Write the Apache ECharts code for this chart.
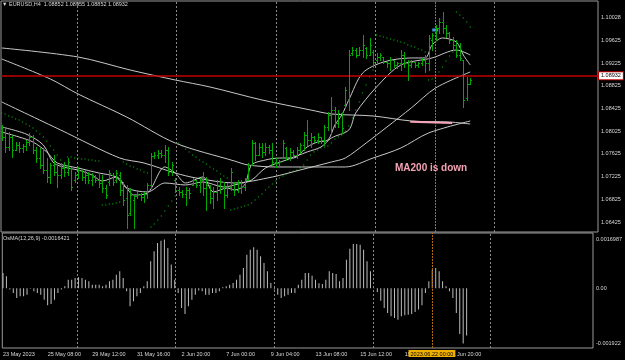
<!DOCTYPE html>
<html>
<head>
<meta charset="utf-8">
<script src="https://cdn.jsdelivr.net/npm/echarts@6/dist/echarts.min.js"></script>
<style>
  html, body { margin: 0; background: #000; }
  #chart { width: 625px; height: 360px; }
</style>
</head>
<body>
<div id="chart"></div>
<script>
// EURUSD H4 bars, 23 May 04:00 .. 22 Jun 16:00
const barOpen = [
  1.08081, 1.07922, 1.07746, 1.07922, 1.07693, 1.07781, 1.07728, 1.07764, 1.07834, 1.07922,
  1.07693, 1.07552, 1.07429, 1.07341, 1.07218, 1.07429, 1.07306, 1.07253, 1.07376, 1.07306,
  1.07376, 1.07165, 1.07253, 1.07341, 1.07218, 1.07253, 1.07165, 1.07218, 1.07165, 1.07112,
  1.07024, 1.07130, 1.07253, 1.07165, 1.07253, 1.06989, 1.06848, 1.06584, 1.06813, 1.06883,
  1.06918, 1.06865, 1.06918, 1.07077, 1.07588, 1.07605, 1.07640, 1.07605, 1.07693, 1.07306,
  1.07165, 1.06989, 1.06954, 1.06918, 1.06989, 1.07077, 1.07165, 1.07077, 1.07165, 1.07024,
  1.07077, 1.06848, 1.06954, 1.07077, 1.07130, 1.06901, 1.07042, 1.07112, 1.06989, 1.07112,
  1.07042, 1.07165, 1.07429, 1.07816, 1.07605, 1.07746, 1.07658, 1.07746, 1.07693, 1.07482,
  1.07464, 1.07552, 1.07728, 1.07570, 1.07658, 1.07605, 1.07693, 1.07781, 1.07957, 1.07869,
  1.07922, 1.07869, 1.07922, 1.07869, 1.08098, 1.08310, 1.08398, 1.08169, 1.08345, 1.08486,
  1.08574, 1.09402, 1.09454, 1.09366, 1.09454, 1.09490, 1.09366, 1.09419, 1.09278, 1.09331,
  1.09331, 1.09243, 1.09225, 1.09278, 1.09190, 1.09225, 1.09366, 1.09225, 1.09190, 1.09243,
  1.09190, 1.09225, 1.09278, 1.09225, 1.09631, 1.09719, 1.09842, 1.09948, 1.09842, 1.09754,
  1.09631, 1.09542, 1.09366, 1.09278, 1.08609, 1.08852
];
const barHigh = [
  1.08134, 1.08081, 1.08010, 1.07957, 1.07834, 1.07834, 1.07799, 1.07869, 1.07993, 1.07957,
  1.07746, 1.07728, 1.07728, 1.07552, 1.07464, 1.07605, 1.07429, 1.07464, 1.07482, 1.07552,
  1.07394, 1.07306, 1.07394, 1.07341, 1.07341, 1.07306, 1.07288, 1.07253, 1.07288, 1.07253,
  1.07077, 1.07341, 1.07288, 1.07341, 1.07306, 1.07130, 1.07077, 1.07024, 1.06901, 1.06954,
  1.06936, 1.06954, 1.07112, 1.07640, 1.07658, 1.07693, 1.07693, 1.07781, 1.07746, 1.07482,
  1.07200, 1.07042, 1.06989, 1.07042, 1.07024, 1.07200, 1.07165, 1.07200, 1.07306, 1.07218,
  1.07077, 1.07042, 1.07165, 1.07200, 1.07130, 1.07112, 1.07376, 1.07130, 1.07165, 1.07165,
  1.07200, 1.07464, 1.07869, 1.07834, 1.07816, 1.07816, 1.07816, 1.07781, 1.07816, 1.07552,
  1.07517, 1.07869, 1.07746, 1.07728, 1.07693, 1.07746, 1.07816, 1.08010, 1.08222, 1.07993,
  1.07940, 1.07993, 1.07922, 1.08134, 1.08362, 1.08627, 1.08451, 1.08398, 1.08345, 1.08803,
  1.09454, 1.09507, 1.09490, 1.09507, 1.09719, 1.09507, 1.09666, 1.09454, 1.09402, 1.09402,
  1.09331, 1.09278, 1.09331, 1.09278, 1.09243, 1.09454, 1.09419, 1.09278, 1.09278, 1.09243,
  1.09243, 1.09314, 1.09366, 1.09719, 1.09754, 1.09895, 1.10018, 1.10124, 1.09895, 1.09771,
  1.09683, 1.09631, 1.09578, 1.09278, 1.08979, 1.08955
];
const barLow = [
  1.07869, 1.07658, 1.07693, 1.07570, 1.07693, 1.07658, 1.07658, 1.07693, 1.07781, 1.07640,
  1.07482, 1.07376, 1.07288, 1.07130, 1.07112, 1.07253, 1.07042, 1.07200, 1.07235, 1.07253,
  1.06989, 1.07130, 1.07200, 1.07165, 1.07112, 1.07112, 1.07077, 1.07130, 1.07042, 1.06954,
  1.06848, 1.07077, 1.07077, 1.07130, 1.06901, 1.06725, 1.06320, 1.06548, 1.06320, 1.06848,
  1.06813, 1.06777, 1.06848, 1.07024, 1.07552, 1.07552, 1.07570, 1.07482, 1.07253, 1.07253,
  1.06954, 1.06901, 1.06865, 1.06725, 1.06848, 1.07077, 1.07042, 1.06954, 1.06901, 1.06637,
  1.06760, 1.06672, 1.06813, 1.06936, 1.06672, 1.06865, 1.06989, 1.06901, 1.06954, 1.06936,
  1.06989, 1.07165, 1.07429, 1.07517, 1.07605, 1.07570, 1.07605, 1.07640, 1.07429, 1.07394,
  1.07429, 1.07552, 1.07517, 1.07517, 1.07570, 1.07552, 1.07640, 1.07693, 1.07781, 1.07746,
  1.07834, 1.07816, 1.07816, 1.07781, 1.08045, 1.07993, 1.08098, 1.08098, 1.07993, 1.08451,
  1.08398, 1.09366, 1.09331, 1.09366, 1.09331, 1.09314, 1.09366, 1.09155, 1.09243, 1.09278,
  1.09225, 1.09155, 1.09102, 1.09155, 1.09137, 1.09102, 1.09155, 1.08926, 1.09155, 1.09155,
  1.09155, 1.09190, 1.09067, 1.09102, 1.09454, 1.09631, 1.09754, 1.09754, 1.09683, 1.09578,
  1.09454, 1.09331, 1.09278, 1.08451, 1.08574, 1.08852
];
const barClose = [
  1.07922, 1.07746, 1.07922, 1.07693, 1.07781, 1.07728, 1.07764, 1.07834, 1.07922, 1.07693,
  1.07552, 1.07429, 1.07341, 1.07218, 1.07429, 1.07306, 1.07253, 1.07376, 1.07306, 1.07482,
  1.07042, 1.07253, 1.07341, 1.07218, 1.07253, 1.07165, 1.07218, 1.07165, 1.07112, 1.07024,
  1.06901, 1.07288, 1.07130, 1.07288, 1.06989, 1.06813, 1.06548, 1.06901, 1.06883, 1.06918,
  1.06865, 1.06918, 1.07077, 1.07588, 1.07605, 1.07640, 1.07605, 1.07693, 1.07306, 1.07429,
  1.06989, 1.06954, 1.06918, 1.06989, 1.06936, 1.07165, 1.07077, 1.07165, 1.07024, 1.07077,
  1.06848, 1.06954, 1.07077, 1.07130, 1.06901, 1.07042, 1.07306, 1.06989, 1.07112, 1.07042,
  1.07165, 1.07429, 1.07816, 1.07605, 1.07746, 1.07658, 1.07746, 1.07693, 1.07482, 1.07464,
  1.07482, 1.07816, 1.07570, 1.07658, 1.07605, 1.07693, 1.07781, 1.07957, 1.07869, 1.07922,
  1.07869, 1.07922, 1.07869, 1.08098, 1.08310, 1.08398, 1.08169, 1.08345, 1.08081, 1.08750,
  1.09366, 1.09454, 1.09366, 1.09454, 1.09542, 1.09366, 1.09542, 1.09243, 1.09331, 1.09366,
  1.09243, 1.09225, 1.09278, 1.09190, 1.09225, 1.09366, 1.09225, 1.09190, 1.09243, 1.09190,
  1.09225, 1.09278, 1.09225, 1.09666, 1.09719, 1.09842, 1.09948, 1.09842, 1.09754, 1.09631,
  1.09542, 1.09366, 1.09314, 1.08574, 1.08856, 1.08932
];

// parabolic SAR, one dot per bar (null where none is drawn)
const sar = [
  1.08345, 1.08327, 1.08292, 1.08274, 1.08239, 1.08222, 1.08186, 1.08151, 1.08116, 1.08081,
  1.08028, 1.07975, 1.07922, 1.07852, 1.07764, 1.07693, 1.07605, 1.07517, null, 1.07570,
  1.07570, 1.07552, 1.07552, 1.07535, 1.07535, 1.07517, 1.07517, 1.07500, 1.07500, 1.06725,
  1.06725, 1.06742, 1.06742, 1.06760, 1.06777, 1.07482, 1.07447, 1.07411, 1.07394, 1.07359,
  1.07341, 1.07306, 1.07288, 1.06337, 1.06390, 1.06460, 1.06531, 1.06619, 1.06707, 1.06795,
  1.06883, 1.07816, 1.07764, 1.07711, 1.07658, 1.07605, 1.07570, 1.07517, 1.07482, 1.07447,
  1.07394, 1.07359, 1.07323, 1.07270, 1.07235, 1.07200, 1.06637, 1.06654, 1.06672, 1.06689,
  1.06707, 1.06725, 1.06760, 1.06813, 1.06865, 1.06918, 1.06989, 1.07042, 1.07094, 1.07147,
  1.07200, 1.07235, 1.07270, 1.07306, 1.07323, 1.07341, 1.07376, 1.07429, 1.07517, 1.07605,
  1.07658, 1.07693, 1.07728, 1.07746, 1.07764, 1.07816, 1.07887, 1.07922, 1.07957, 1.08028,
  1.08116, 1.08257, 1.08398, 1.08539, 1.08697, 1.08838, 1.08979, 1.09102, 1.09719, 1.09701,
  1.09683, 1.09666, 1.09648, 1.09631, 1.09613, 1.09595, 1.09578, 1.09542, 1.09525, 1.09507,
  1.09472, 1.09454, 1.09419, 1.08926, 1.08944, 1.08997, 1.09067, 1.09155, 1.09261, 1.09349,
  1.09419, 1.10124, 1.10071, 1.10018, 1.09948, 1.09860
];

// moving averages as [bar, price]
const ma200 = [[0, 1.09490], [22, 1.09331], [37, 1.09102], [50, 1.08926], [60, 1.08803], [75, 1.08574],
  [89, 1.08398], [95, 1.08327], [107, 1.08292], [118, 1.08204], [129, 1.08186], [135, 1.08151]];
const ma100 = [[0, 1.09296], [14, 1.08944], [22, 1.08679], [36, 1.08274], [50, 1.07816], [67, 1.07500],
  [71, 1.07429], [79, 1.07394], [99, 1.07394], [107, 1.07552], [115, 1.07728], [123, 1.07993], [135, 1.08204]];
const ma50 = [[0, 1.08539], [17, 1.08045], [34, 1.07552], [41, 1.07464], [50, 1.07288], [56, 1.07200],
  [67, 1.07112], [78, 1.07218], [86, 1.07341], [95, 1.07482], [99, 1.07552], [105, 1.07816], [111, 1.08098],
  [118, 1.08433], [125, 1.08785], [135, 1.09067]];
const ma20 = [[0, 1.08010], [5, 1.07922], [9, 1.07834], [13, 1.07658], [16, 1.07464], [22, 1.07376],
  [28, 1.07288], [33, 1.07218], [36, 1.07024], [42, 1.06954], [47, 1.07112], [53, 1.07077], [58, 1.07130],
  [64, 1.07042], [67, 1.07077], [72, 1.07165], [76, 1.07376], [82, 1.07517], [88, 1.07658], [92, 1.07746],
  [95, 1.07905], [100, 1.08045], [102, 1.08345], [108, 1.08803], [115, 1.09190], [124, 1.09314],
  [131, 1.09454], [135, 1.09366]];
const ma10 = [[0, 1.08098], [7, 1.07975], [12, 1.07781], [15, 1.07464], [19, 1.07376], [22, 1.07341],
  [26, 1.07253], [29, 1.07147], [33, 1.07218], [36, 1.07024], [38, 1.06901], [42, 1.06936], [47, 1.07394],
  [50, 1.07288], [53, 1.07112], [58, 1.07218], [61, 1.06954], [65, 1.07024], [67, 1.06989], [70, 1.07077],
  [72, 1.07429], [76, 1.07517], [80, 1.07552], [84, 1.07552], [88, 1.07746], [91, 1.07834], [94, 1.07869],
  [96, 1.08134], [98, 1.08310], [100, 1.08574], [104, 1.09049], [110, 1.09243], [118, 1.09314],
  [122, 1.09314], [124, 1.09542], [127, 1.09666], [131, 1.09595], [133, 1.09366], [135, 1.09190]];

// OsMA(12,26,9) histogram
const osma = [
  0.000534, 0.000418, -0.000046, -0.000163, -0.000337, -0.000279, -0.000279, -0.000221, -0.000012, -0.000105,
  -0.000163, -0.000221, -0.000395, -0.000592, -0.000546, -0.000395, -0.000163, -0.000046, 0.000070, 0.000302,
  0.000302, 0.000360, 0.000383, 0.000360, 0.000302, 0.000244, 0.000128, 0.000128, 0.000128, 0.000070,
  0.000128, 0.000244, 0.000302, 0.000476, 0.000592, 0.000360, -0.000105, -0.000627, -0.000453, -0.000279,
  -0.000163, 0.000070, 0.000244, 0.000941, 0.001289, 0.001580, 0.001661, 0.0016987, 0.001405, 0.000825,
  0.000302, -0.000163, -0.000685, -0.000894, -0.000627, -0.000395, -0.000221, -0.000081, -0.000105, -0.000221,
  -0.000221, -0.000163, -0.000163, -0.000105, 0.000035, 0.000070, 0.000128, 0.000186, 0.000302, 0.000476,
  0.000708, 0.001173, 0.001347, 0.001429, 0.001347, 0.001115, 0.000883, 0.000592, 0.000186, -0.000046,
  -0.000221, -0.000337, -0.000279, -0.000221, -0.000163, -0.000163, 0.000128, 0.000302, 0.000534, 0.000534,
  0.000441, 0.000302, 0.000174, 0.000151, 0.000302, 0.000592, 0.000534, 0.000499, 0.000244, 0.000360,
  0.000999, 0.001382, 0.001545, 0.001545, 0.001521, 0.001347, 0.000941, 0.000592, 0.000012, -0.000128,
  -0.000430, -0.000685, -0.000859, -0.000976, -0.001034, -0.001092, -0.000976, -0.000941, -0.000918, -0.000894,
  -0.000825, -0.000743, -0.000592, -0.000163, 0.000244, 0.000650, 0.000708, 0.000592, 0.000244, 0.000070,
  -0.000105, -0.000337, -0.000859, -0.001591, -0.001922, -0.0016421
];

const priceTicks = [1.06425, 1.06825, 1.07225, 1.07625, 1.08025, 1.08425, 1.08825, 1.09225, 1.09625, 1.10028];
const osmaTicks = [0.0016987, 0, -0.001922];
const osmaTickText = ['0.0016987', '0.00', '-0.001922'];
const timeTickBars = [0, 13, 26, 39, 52, 65, 78, 91, 104, 117, 130];
const timeTickText = ['23 May 2023', '25 May 08:00', '29 May 12:00', '31 May 16:00', '2 Jun 20:00',
  '7 Jun 00:00', '9 Jun 04:00', '13 Jun 08:00', '15 Jun 12:00', '19 Jun 16:00', '21 Jun 20:00'];
const lastPrice = 1.08932;
const markerBar = 124.9;
const markerTime = '2023.06.22 00:00';

(function() {
  const chart = echarts.init(document.getElementById('chart'));
  const font = 'Liberation Sans';
  const txt = '#d8d8d8';
  const barColor = '#00a800';
  const maColor = '#c8c8c8';
  const frame = '#9a9a9a';
  const gridBars = [21.7, 50.2, 79, 107.7, 141.9];

  const ohlc = barOpen.map(function(o, i) {
    return [i, o, barHigh[i], barLow[i], barClose[i]];
  });
  const sarPts = [];
  sar.forEach(function(v, i) {
    if (v !== null) sarPts.push([i, v]);
  });

  function maSeries(pts) {
    return {
      type: 'line',
      xAxisIndex: 0,
      yAxisIndex: 0,
      data: pts,
      showSymbol: false,
      smooth: 0.3,
      silent: true,
      z: 4,
      lineStyle: { color: maColor, width: 1 }
    };
  }

  function gridLines(idx) {
    return {
      type: 'line',
      xAxisIndex: idx,
      yAxisIndex: idx,
      data: [],
      silent: true,
      z: 1,
      markLine: {
        symbol: 'none',
        silent: true,
        label: { show: false },
        lineStyle: { color: '#8a8a8a', width: 1, type: [2, 2] },
        data: gridBars.map(function(b) { return { xAxis: b }; })
      }
    };
  }

  const xBase = {
    type: 'value',
    min: -0.2,
    max: 171.8,
    axisLine: { show: false },
    axisTick: { show: false },
    splitLine: { show: false }
  };

  const option = {
    backgroundColor: '#000',
    animation: false,
    title: [
      {
        text: '\u25BC EURUSD,H4  1.08852 1.08955 1.08852 1.08932',
        left: 2, top: 1, padding: 0,
        textStyle: { color: txt, fontSize: 5.5, fontWeight: 'normal', fontFamily: font }
      },
      {
        text: 'OsMA(12,26,9) -0.0016421',
        left: 3, top: 235, padding: 0,
        textStyle: { color: txt, fontSize: 5.5, fontWeight: 'normal', fontFamily: font }
      }
    ],
    grid: [
      { left: 1, top: 1, width: 597, height: 231, show: true, borderColor: frame, borderWidth: 1 },
      { left: 1, top: 233, width: 597, height: 115, show: true, borderColor: frame, borderWidth: 1 }
    ],
    xAxis: [
      Object.assign({}, xBase, { gridIndex: 0, axisLabel: { show: false } }),
      Object.assign({}, xBase, {
        gridIndex: 1,
        axisLabel: {
          show: true,
          customValues: timeTickBars,
          formatter: function(v) {
            const k = timeTickBars.indexOf(Math.round(v));
            return k >= 0 ? timeTickText[k] : '';
          },
          align: 'left',
          margin: 3,
          color: txt,
          fontSize: 5.5,
          fontFamily: font,
          hideOverlap: false
        }
      })
    ],
    yAxis: [
      {
        type: 'value', gridIndex: 0, position: 'right',
        min: 1.06249, max: 1.10317,
        axisLine: { show: false }, axisTick: { show: false }, splitLine: { show: false },
        axisLabel: {
          customValues: priceTicks,
          formatter: function(v) { return v.toFixed(5); },
          margin: 3, color: txt, fontSize: 5.5, fontFamily: font
        }
      },
      {
        type: 'value', gridIndex: 1, position: 'right',
        min: -0.0020801, max: 0.0019268,
        axisLine: { show: false }, axisTick: { show: false }, splitLine: { show: false },
        axisLabel: {
          customValues: osmaTicks,
          formatter: function(v) {
            let k = 0;
            osmaTicks.forEach(function(t, j) {
              if (Math.abs(t - v) < Math.abs(osmaTicks[k] - v)) k = j;
            });
            return osmaTickText[k];
          },
          margin: 3, color: txt, fontSize: 5.5, fontFamily: font
        }
      }
    ],
    series: [
      gridLines(0),
      gridLines(1),
      maSeries(ma200),
      maSeries(ma100),
      maSeries(ma50),
      maSeries(ma20),
      maSeries(ma10),
      {
        type: 'scatter',
        xAxisIndex: 0, yAxisIndex: 0,
        data: sarPts,
        symbolSize: 1.4,
        silent: true,
        z: 3,
        itemStyle: { color: '#00b400' }
      },
      {
        type: 'custom',
        xAxisIndex: 0, yAxisIndex: 0,
        data: ohlc,
        encode: { x: 0, y: [1, 2, 3, 4] },
        silent: true,
        z: 5,
        renderItem: function(params, api) {
          const i = api.value(0);
          const hi = api.coord([i, api.value(2)]);
          const lo = api.coord([i, api.value(3)]);
          const op = api.coord([i, api.value(1)]);
          const cl = api.coord([i, api.value(4)]);
          const x = Math.round(hi[0]) + 0.5;
          const st = { stroke: barColor, lineWidth: 1 };
          const yo = Math.round(op[1]) + 0.5;
          const yc = Math.round(cl[1]) + 0.5;
          return {
            type: 'group',
            children: [
              { type: 'line', shape: { x1: x, y1: Math.round(hi[1]), x2: x, y2: Math.round(lo[1]) + 1 }, style: st },
              { type: 'line', shape: { x1: x - 1.5, y1: yo, x2: x, y2: yo }, style: st },
              { type: 'line', shape: { x1: x, y1: yc, x2: x + 1.5, y2: yc }, style: st }
            ]
          };
        },
        markLine: {
          symbol: 'none',
          silent: true,
          data: [
            {
              yAxis: lastPrice,
              lineStyle: { color: '#c00000', width: 1.5, type: 'solid' },
              label: {
                show: true, position: 'end', distance: 1,
                formatter: lastPrice.toFixed(5),
                color: '#000', backgroundColor: '#fff',
                borderColor: '#c00000', borderWidth: 1,
                padding: [1, 2, 0, 2], fontSize: 5.5, fontFamily: font
              }
            },
            {
              xAxis: markerBar,
              lineStyle: { color: '#b06a10', width: 1, type: [2, 1] },
              label: { show: false }
            },
            [
              { coord: [117.7, 1.08192], lineStyle: { color: '#f4a4b6', width: 2, type: 'solid' }, label: { show: false } },
              { coord: [129.8, 1.08169] }
            ]
          ]
        },
        markPoint: {
          silent: true,
          data: [
            {
              coord: [113.3, 1.07376],
              symbol: 'rect', symbolSize: 0,
              label: {
                show: true, position: 'right', distance: 0,
                formatter: 'MA200 is down',
                color: '#f5a3b5', fontSize: 10, fontWeight: 'bold', fontFamily: font
              }
            },
            {
              coord: [markerBar, 1.09807],
              symbol: 'rect', symbolSize: [6, 3],
              itemStyle: { color: '#4a92e0' },
              label: { show: false }
            }
          ]
        }
      },
      {
        type: 'bar',
        xAxisIndex: 1, yAxisIndex: 1,
        data: osma.map(function(v, i) { return [i, v]; }),
        barWidth: 1,
        silent: true,
        z: 3,
        itemStyle: { color: '#bdbdbd' },
        markLine: {
          symbol: 'none',
          silent: true,
          data: [
            {
              xAxis: markerBar,
              lineStyle: { color: '#b06a10', width: 1, type: [2, 1] },
              label: {
                show: true, position: 'start', distance: 2,
                formatter: markerTime,
                color: '#000', backgroundColor: '#f0b000',
                padding: [1, 2, 0, 2], fontSize: 5.5, fontFamily: font
              }
            }
          ]
        }
      }
    ]
  };
  chart.setOption(option);

  window.onresize = function() {
    chart.resize();
  };
}());
</script>
</body>
</html>
